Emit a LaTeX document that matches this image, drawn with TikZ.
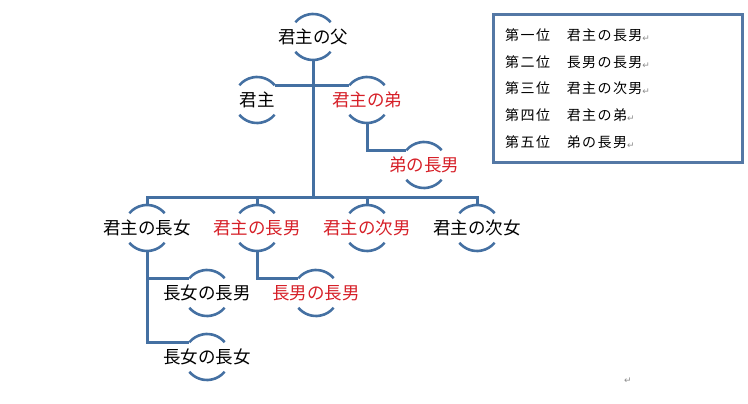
\documentclass[tikz,border=0pt]{standalone}
\usepackage{fontspec}
\setmainfont{Noto Sans CJK JP}
\newfontfamily\boxfont[LetterSpace=10]{Noto Sans CJK JP}
\newfontfamily\symfont{DejaVu Sans}
\definecolor{linecol}{RGB}{68,112,162}
\definecolor{boxcol}{RGB}{84,120,165}
\definecolor{redtxt}{RGB}{214,32,40}
\definecolor{retcol}{RGB}{140,140,140}
\newcommand\ret{{\symfont\fontsize{9}{9}\selectfont\color{retcol}\raisebox{-1pt}{↵}}}
\newcommand\twoarcs[1]{%
  \draw[arcline] ([shift={(40:23pt)}]#1.center) arc[start angle=40,end angle=140,radius=23pt];
  \draw[arcline] ([shift={(220:23pt)}]#1.center) arc[start angle=220,end angle=320,radius=23pt];}
\begin{document}
\begin{tikzpicture}[x=1pt,y=-1pt,
  arcline/.style={draw=linecol,line width=2.6pt},
  conn/.style={draw=linecol,line width=3pt},
  person/.style={inner sep=0pt,font=\fontsize{17.5}{20}\selectfont},
  red/.style={text=redtxt},
  rank/.style={anchor=west,inner sep=0pt,font=\boxfont\fontsize{14}{16}\selectfont}]
\useasboundingbox (0,0) rectangle (748,404);
% nodes
\node[person] (fa) at (313,37) {君主の父};
\node[person] (k) at (257,100) {君主};
\node[person,red] (b) at (367,100) {君主の弟};
\node[person,red] (bs) at (424,165) {弟の長男};
\node[person] (d1) at (147,228) {君主の長女};
\node[person,red] (d2) at (257,228) {君主の長男};
\node[person,red] (d3) at (367,228) {君主の次男};
\node[person] (d4) at (477,228) {君主の次女};
\node[person] (g1) at (207,293) {長女の長男};
\node[person] (g2) at (207,357) {長女の長女};
\node[person,red] (gs) at (316,293) {長男の長男};
\foreach \n in {fa,k,b,bs,d1,d2,d3,d4,g1,g2,gs} {\twoarcs{\n}}
% connectors
\coordinate (bar) at (0,197);
\draw[conn] ([yshift=-23pt]fa.center) -- (fa.center |- bar);
\draw[conn] ([shift={(40:23pt)}]k.center) -- ([shift={(140:23pt)}]b.center);
\draw[conn] ([yshift=23pt]d1.center) -- (d1.center |- bar) -- (d4.center |- bar) -- ([yshift=23pt]d4.center);
\draw[conn] ([yshift=23pt]d2.center) -- (d2.center |- bar);
\draw[conn] ([yshift=23pt]d3.center) -- (d3.center |- bar);
\draw[conn] ([yshift=-23pt]b.center) |- ([shift={(140:23pt)}]bs.center);
\draw[conn] ([yshift=-23pt]d1.center) |- ([shift={(140:23pt)}]g1.center);
\draw[conn] ([yshift=-23pt]d1.center) |- ([shift={(140:23pt)}]g2.center);
\draw[conn] ([yshift=-23pt]d2.center) |- ([shift={(140:23pt)}]gs.center);
% ranking box
\node[draw=boxcol,line width=3pt,minimum width=249pt,minimum height=147pt,inner sep=0pt] (box) at (617.5,88.5) {};
\node[rank] (r1) at (505,35) {第一位　君主の長男\ret};
\node[rank] (r2) at (505,62) {第二位　長男の長男\ret};
\node[rank] (r3) at (505,88) {第三位　君主の次男\ret};
\node[rank] (r4) at (505,115) {第四位　君主の弟\ret};
\node[rank] (r5) at (505,142) {第五位　弟の長男\ret};
\node[inner sep=0pt] (endmark) at (628,381) {\ret};
\end{tikzpicture}
\end{document}
